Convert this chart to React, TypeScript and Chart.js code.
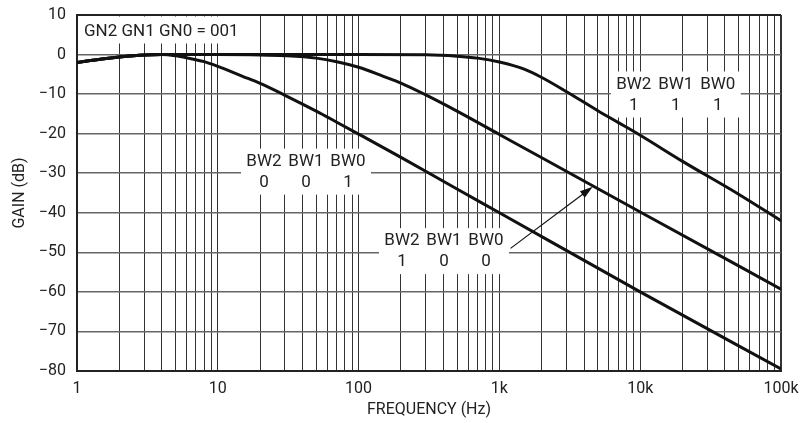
import React, { useEffect, useRef } from "react";
import { Chart, registerables } from "chart.js";

Chart.register(...registerables);

// ---- data ----
const freqBW001 = [1, 1.5, 2, 3, 4, 5, 6, 8, 10, 15, 20, 30, 50, 70, 100, 200, 500, 1000, 10000, 100000];
const gainBW001 = [-2.0, -1.1, -0.6, -0.1, 0, -0.3, -0.8, -1.8, -3, -5.5, -7.3, -10.3, -14.3, -17.1, -20.1, -26, -34, -40, -60, -79.5];

const freqBW100 = [1, 1.5, 2, 3, 4, 6, 10, 20, 30, 50, 70, 100, 150, 200, 300, 500, 1000, 2000, 10000, 100000];
const gainBW100 = [-2.0, -1.1, -0.6, -0.1, 0, 0, 0, -0.1, -0.3, -0.9, -1.8, -3.2, -5.5, -7.2, -10.2, -14.3, -20.2, -26.1, -39.8, -59.3];

const freqBW111 = [1, 1.5, 2, 3, 4, 6, 10, 100, 300, 500, 700, 1000, 1500, 2000, 3000, 5000, 7000, 10000, 20000, 50000, 100000];
const gainBW111 = [-2.0, -1.1, -0.6, -0.1, 0, 0, 0, 0, -0.05, -0.4, -0.9, -1.9, -3.7, -5.8, -9.4, -14.2, -17.2, -20.4, -27, -35.3, -42];

const xDecades = [1, 10, 100, 1000, 10000, 100000];
const xDecadeLabels = ["1", "10", "100", "1k", "10k", "100k"];
const xMinorSteps = [1, 2, 3, 4, 5, 6, 7, 8, 9];

const yMin = -80;
const yMax = 10;
const yStep = 10;

const gainTitle = "GN2 GN1 GN0 = 001";
const bwHeader = ["BW2", "BW1", "BW0"];
// annotation label anchors in data units: [frequency, dB] and bit values
const bwLabels = [
  { f: 42.3, db: -29.6, bits: ["0", "0", "1"] },
  { f: 404, db: -49.7, bits: ["1", "0", "0"] },
  { f: 17900, db: -10.1, bits: ["1", "1", "1"] },
];
const arrowTail = [1200, -49];
const arrowHead = [4600, -33.4];

const FONT = "Roboto, 'Liberation Sans', sans-serif";
const TEXT = "#222";

function toPts(fs: number[], gs: number[]) {
  return fs.map((f, i) => ({ x: f, y: gs[i] }));
}

const labelsPlugin = {
  id: "bwLabels",
  beforeDatasetsDraw(chart: any) {
    const { ctx, scales } = chart;
    const xs = scales.x;
    const ys = scales.y;
    ctx.save();
    const left = xs.getPixelForValue(1);
    const top = ys.getPixelForValue(10);
    ctx.fillStyle = "#fff";
    ctx.fillRect(left + 1.5, top + 1.5, 172, 27);
    ctx.fillStyle = TEXT;
    ctx.font = `17px ${FONT}`;
    ctx.textAlign = "left";
    ctx.textBaseline = "middle";
    ctx.fillText(gainTitle, left + 7, top + 17);

    bwLabels.forEach((lb) => {
      const cx = xs.getPixelForValue(lb.f);
      const cy = ys.getPixelForValue(lb.db);
      ctx.fillStyle = "#fff";
      ctx.fillRect(cx - 65, cy - 23, 130, 46);
      ctx.fillStyle = TEXT;
      ctx.textAlign = "center";
      ctx.textBaseline = "middle";
      ctx.font = `17px ${FONT}`;
      bwHeader.forEach((h, i) => {
        const x = cx + (i - 1) * 42;
        ctx.fillText(h, x, cy - 10);
        ctx.fillText(lb.bits[i], x, cy + 11);
      });
    });
    ctx.restore();
  },
  afterDatasetsDraw(chart: any) {
    const { ctx, scales } = chart;
    const x0 = scales.x.getPixelForValue(arrowTail[0]);
    const y0 = scales.y.getPixelForValue(arrowTail[1]);
    const x1 = scales.x.getPixelForValue(arrowHead[0]);
    const y1 = scales.y.getPixelForValue(arrowHead[1]);
    const ang = Math.atan2(y1 - y0, x1 - x0);
    const len = 13;
    const hw = 4;
    ctx.save();
    ctx.strokeStyle = "#111";
    ctx.fillStyle = "#111";
    ctx.lineWidth = 1.2;
    ctx.beginPath();
    ctx.moveTo(x0, y0);
    ctx.lineTo(x1 - Math.cos(ang) * len * 0.8, y1 - Math.sin(ang) * len * 0.8);
    ctx.stroke();
    ctx.beginPath();
    ctx.moveTo(x1, y1);
    ctx.lineTo(x1 - Math.cos(ang) * len + Math.sin(ang) * hw, y1 - Math.sin(ang) * len - Math.cos(ang) * hw);
    ctx.lineTo(x1 - Math.cos(ang) * len - Math.sin(ang) * hw, y1 - Math.sin(ang) * len + Math.cos(ang) * hw);
    ctx.closePath();
    ctx.fill();
    ctx.restore();
  },
};

export default function App() {
  const ref = useRef<HTMLCanvasElement | null>(null);
  useEffect(() => {
    if (!ref.current) return;
    const xTicks: number[] = [];
    xDecades.forEach((d, i) => {
      if (i === xDecades.length - 1) xTicks.push(d);
      else xMinorSteps.forEach((m) => xTicks.push(d * m));
    });
    const line = {
      borderColor: "#111",
      borderWidth: 3,
      pointRadius: 0,
      fill: false,
      cubicInterpolationMode: "monotone" as const,
    };
    const chart = new Chart(ref.current, {
      type: "line",
      data: {
        datasets: [
          { ...line, label: "BW 001", data: toPts(freqBW001, gainBW001) },
          { ...line, label: "BW 100", data: toPts(freqBW100, gainBW100) },
          { ...line, label: "BW 111", data: toPts(freqBW111, gainBW111) },
        ],
      },
      options: {
        responsive: false,
        animation: false,
        devicePixelRatio: 1,
        layout: { padding: { top: 15, right: 20, left: 0, bottom: 0 } },
        plugins: { legend: { display: false }, tooltip: { enabled: false } },
        scales: {
          x: {
            type: "logarithmic",
            min: 1,
            max: 100000,
            afterBuildTicks: (s: any) => {
              s.ticks = xTicks.map((v) => ({ value: v }));
            },
            afterFit: (s: any) => {
              s.height = 52;
              s.paddingLeft = 0;
              s.paddingRight = 0;
            },
            ticks: {
              autoSkip: false,
              maxRotation: 0,
              minRotation: 0,
              padding: 8,
              color: TEXT,
              font: { family: FONT, size: 16 },
              callback: (v: any) => {
                const i = xDecades.indexOf(Number(v));
                return i >= 0 ? xDecadeLabels[i] : "";
              },
            },
            grid: {
              drawTicks: false,
              color: "#333",
              lineWidth: (c: any) => (c.tick && c.tick.value === 100000 ? 2 : 1),
            },
            border: { color: "#222", width: 2 },
            title: {
              display: true,
              text: "FREQUENCY (Hz)",
              color: TEXT,
              font: { family: FONT, size: 16 },
              padding: { top: 0, bottom: 3 },
            },
          },
          y: {
            type: "linear",
            min: yMin,
            max: yMax,
            afterFit: (s: any) => {
              s.width = 77;
              s.paddingTop = 0;
              s.paddingBottom = 0;
            },
            ticks: {
              stepSize: yStep,
              padding: 11,
              color: TEXT,
              font: { family: FONT, size: 16 },
              callback: (v: any) => (Number(v) < 0 ? "\u2212" + Math.abs(Number(v)) : String(v)),
            },
            grid: {
              drawTicks: false,
              color: (c: any) => (c.tick && c.tick.value === yMax ? "#222" : "#666"),
              lineWidth: (c: any) => (c.tick && c.tick.value === yMax ? 2 : 1.5),
            },
            border: { color: "#222", width: 2 },
            title: {
              display: true,
              text: "GAIN (dB)",
              color: TEXT,
              font: { family: FONT, size: 16 },
              padding: { top: 10, bottom: 0 },
            },
          },
        },
      },
      plugins: [labelsPlugin],
    } as any);
    return () => chart.destroy();
  }, []);
  return (
    <div style={{ position: "absolute", left: 0, top: 0, width: 801, height: 423, background: "#fff" }}>
      <canvas ref={ref} width={801} height={423} style={{ width: 801, height: 423 }} />
    </div>
  );
}
